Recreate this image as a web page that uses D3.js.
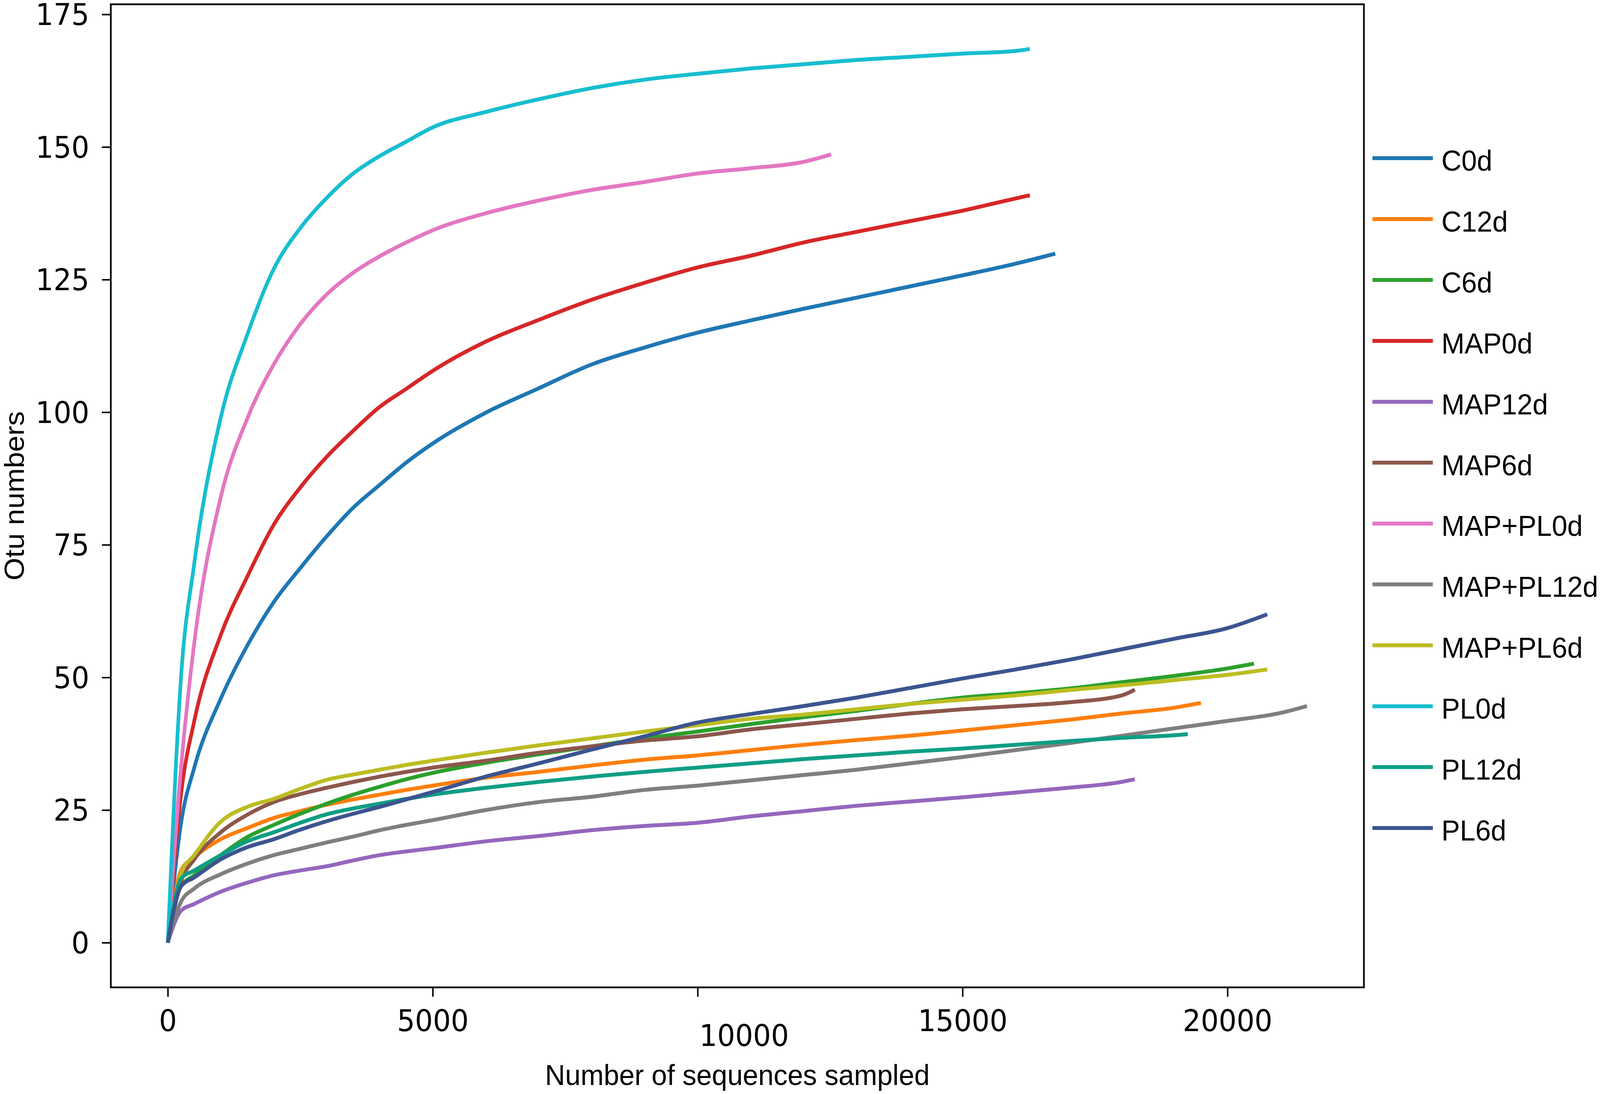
<!DOCTYPE html>
<html>
<head>
<meta charset="utf-8">
<script src="https://cdn.jsdelivr.net/npm/d3@7/dist/d3.min.js"></script>
<style>
  html, body { margin: 0; padding: 0; background: #fff; overflow: hidden; width: 100%; height: 100%; }
  svg { display: block; width: 100vw; height: 100vh; }
</style>
</head>
<body>
<svg id="chart" viewBox="0 0 4317 2801" preserveAspectRatio="none"></svg>
<script>
// ---------- DATA ----------
const seriesNames = ["C0d","C12d","C6d","MAP0d","MAP12d","MAP6d","MAP+PL0d","MAP+PL12d","MAP+PL6d","PL0d","PL12d","PL6d"];
// sampling depths (number of sequences)
const samples = [0,250,500,1000,1500,2000,2500,3000,3500,4000,4500,5000,6000,7000,8000,9000,10000,11000,12000,13000,14000,15000,16000,17000,18000,19000,20000,21000];
// last sampled depth of each series (same order as seriesNames)
const endX = [16750,19500,20500,16270,18250,18250,12520,21500,20750,16270,19250,20750];
// OTU values at samples[0..n-2], final value at endX
const C0d      = [0,22.5,33,46,56,64.2,70.6,76.6,82,86.3,90.5,94.1,99.9,104.5,109,112.2,115,117.3,119.5,121.6,123.7,125.8,128,129.9];
const C12d     = [0,13.6,16.1,19.5,21.6,23.5,24.8,26,27,27.9,28.8,29.6,31.1,32.2,33.4,34.5,35.3,36.3,37.3,38.2,39,40,41,42,43.2,44.3,45.2];
const C6d      = [0,10.6,12.7,16.5,19.9,22.2,24.3,26.2,27.9,29.4,30.8,32,33.9,35.5,37,38.5,39.8,41.2,42.5,43.7,45,46.2,47,47.9,49.1,50.3,51.7,52.6];
const MAP0d    = [0,28,41.8,58,69,78.8,85.8,91.6,96.5,101,104.4,107.8,113.3,117.4,121.2,124.4,127.3,129.5,132,134,136,138,140.3,140.9];
const MAP12d   = [0,6,7.3,9.6,11.3,12.7,13.6,14.4,15.5,16.5,17.2,17.8,19.1,20.1,21.2,22,22.6,23.8,24.8,25.8,26.6,27.4,28.3,29.2,30.3,30.8];
const MAP6d    = [0,11.5,15.7,20.8,24.1,26.5,28,29.2,30.3,31.3,32.2,33,34.3,35.8,37,38.1,38.9,40.2,41.2,42.2,43.2,44,44.6,45.3,46.6,47.7];
const MAPPL0d  = [0,33,56.5,84,98.8,109,116.6,122.2,126.3,129.4,132,134.3,137.5,139.9,141.9,143.4,145,146,147.2,148.6];
const MAPPL12d = [0,7.7,10.2,12.9,14.9,16.5,17.7,18.9,20,21.2,22.2,23.1,25,26.5,27.5,28.8,29.6,30.6,31.6,32.6,33.8,35,36.3,37.6,39,40.4,41.8,43.3,44.6];
const MAPPL6d  = [0,13,16.5,22.8,25.6,27.1,29,30.7,31.7,32.6,33.5,34.3,35.8,37.2,38.5,39.8,41,42.2,43,44,45,45.8,46.6,47.6,48.5,49.5,50.5,51.5];
const PL0d     = [0,50,71.5,99,114.6,127,134.7,140.4,145,148.3,151,153.7,156.6,159,161.1,162.7,163.8,164.8,165.6,166.4,167,167.6,168.1,168.5];
const PL12d    = [0,12.1,13.6,16.5,19.1,20.8,22.6,24.2,25.3,26.2,27.1,27.9,29.2,30.3,31.3,32.2,33,33.8,34.6,35.3,36,36.6,37.3,38,38.6,39.1,39.3];
const PL6d     = [0,10.6,12.3,15.7,18,19.5,21.3,22.9,24.3,25.6,27,28.4,31.3,33.8,36.4,38.9,41.5,43.1,44.6,46.2,48,49.8,51.5,53.3,55.3,57.3,59.3,61.9];
const seriesValues = [C0d,C12d,C6d,MAP0d,MAP12d,MAP6d,MAPPL0d,MAPPL12d,MAPPL6d,PL0d,PL12d,PL6d];

const xTicks = [0,5000,10000,15000,20000];
const yTicks = [0,25,50,75,100,125,150,175];
const xTitle = "Number of sequences sampled";
const yTitle = "Otu numbers";

// ---------- STYLE ----------
const colors = ["#1f77b4","#ff7f0e","#2ca02c","#d62728","#9467bd","#8c564b","#e377c2","#7f7f7f","#bcbd22","#17becf","#0e9e84","#3c5490"];
const plot = {left: 299, right: 3680, top: 11, bottom: 2528};
const tickFont = "'DejaVu Sans', sans-serif";
const textFont = "'Liberation Sans', Arial, Helvetica, sans-serif";

// ---------- SCALES ----------
const x = d3.scaleLinear().domain([-1075, 22575]).range([plot.left, plot.right]);
const y = d3.scaleLinear().domain([-8.43, 176.9]).range([plot.bottom, plot.top]);

const svg = d3.select("#chart");
svg.append("rect").attr("width", 4317).attr("height", 2801).attr("fill", "#fff");

// ---------- LINES ----------
const line = d3.line().x(d => x(d[0])).y(d => y(d[1])).curve(d3.curveMonotoneX);
const seriesData = seriesNames.map((name, i) => {
  const vals = seriesValues[i];
  const pts = vals.map((v, j) => [j === vals.length - 1 ? endX[i] : samples[j], v]);
  return {name, color: colors[i], pts};
});

const clipId = "plotclip";
svg.append("clipPath").attr("id", clipId).append("rect")
  .attr("x", plot.left).attr("y", plot.top)
  .attr("width", plot.right - plot.left).attr("height", plot.bottom - plot.top);

svg.append("g").attr("clip-path", `url(#${clipId})`)
  .selectAll("path").data(seriesData).join("path")
  .attr("d", d => line(d.pts))
  .attr("fill", "none")
  .attr("stroke", d => d.color)
  .attr("stroke-width", 10)
  .attr("stroke-linejoin", "round")
  .attr("stroke-linecap", "butt");

// ---------- AXES ----------
const xAxis = svg.append("g")
  .attr("transform", `translate(0,${plot.bottom})`)
  .call(d3.axisBottom(x).tickValues(xTicks).tickFormat(d3.format("d")).tickSize(24).tickPadding(0));
xAxis.select(".domain").remove();
xAxis.selectAll(".tick line").attr("stroke", "#000").attr("stroke-width", 4);
xAxis.selectAll(".tick text")
  .attr("font-family", tickFont).attr("font-size", 76).attr("fill", "#000")
  .attr("y", 112).attr("dy", 0);
// the 10000 label sits lower and starts at its tick in the reference
xAxis.selectAll(".tick").filter(d => d === 10000).select("text")
  .attr("text-anchor", "start").attr("x", 4).attr("y", 150);

const yAxis = svg.append("g")
  .attr("transform", `translate(${plot.left},0)`)
  .call(d3.axisLeft(y).tickValues(yTicks).tickFormat(d3.format("d")).tickSize(24).tickPadding(0));
yAxis.select(".domain").remove();
yAxis.selectAll(".tick line").attr("stroke", "#000").attr("stroke-width", 4);
yAxis.selectAll(".tick text")
  .attr("font-family", tickFont).attr("font-size", 76).attr("fill", "#000")
  .attr("x", -58).attr("dy", 0).attr("y", 27);

// frame
svg.append("rect")
  .attr("x", plot.left).attr("y", plot.top)
  .attr("width", plot.right - plot.left).attr("height", plot.bottom - plot.top)
  .attr("fill", "none").attr("stroke", "#000").attr("stroke-width", 4.5);

// ---------- TITLES ----------
svg.append("text")
  .attr("x", (plot.left + plot.right) / 2).attr("y", 2778)
  .attr("text-anchor", "middle")
  .attr("font-family", textFont).attr("font-size", 75).attr("fill", "#000")
  .text(xTitle);

svg.append("text")
  .attr("transform", `translate(64,${(plot.top + plot.bottom) / 2}) rotate(-90)`)
  .attr("text-anchor", "middle")
  .attr("font-family", textFont).attr("font-size", 75).attr("fill", "#000")
  .text(yTitle);

// ---------- LEGEND ----------
const legendY = d3.scaleLinear().domain([0, 11]).range([405, 2120]);
const legend = svg.append("g").selectAll("g").data(seriesData).join("g")
  .attr("transform", (d, i) => `translate(0,${legendY(i)})`);
legend.append("line")
  .attr("x1", 3703).attr("x2", 3866).attr("y1", 0).attr("y2", 0)
  .attr("stroke", d => d.color).attr("stroke-width", 10);
legend.append("text")
  .attr("x", 3889).attr("y", 32)
  .attr("font-family", textFont).attr("font-size", 75).attr("fill", "#000")
  .text(d => d.name);
</script>
</body>
</html>
